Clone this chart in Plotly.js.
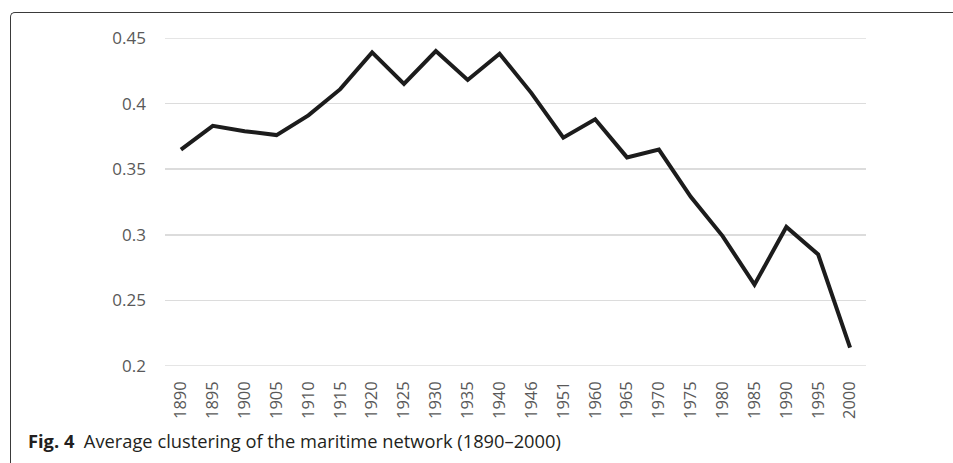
<!DOCTYPE html>
<html>
<head>
<meta charset="utf-8">
<script src="https://cdn.plot.ly/plotly-3.0.1.min.js"></script>
<style>
  html, body { margin: 0; padding: 0; background: #fff; }
  #wrap { position: relative; width: 953px; height: 463px; overflow: hidden; }
  #frame { position: absolute; left: 10px; top: 12px; width: 960px; height: 470px;
           border-left: 1.5px solid #3a3a3a; border-top: 1.5px solid #3a3a3a;
           border-top-left-radius: 5px; box-sizing: border-box; }
  #chart { position: absolute; left: 0; top: 0; width: 953px; height: 463px; }
</style>
</head>
<body>
<div id="wrap">
  <div id="frame"></div>
  <div id="chart"></div>
</div>
<script>
const years = ["1890","1895","1900","1905","1910","1915","1920","1925","1930","1935","1940","1946","1951","1960","1965","1970","1975","1980","1985","1990","1995","2000"];
const clustering = [0.365,0.383,0.379,0.376,0.391,0.411,0.439,0.415,0.440,0.418,0.438,0.408,0.374,0.388,0.359,0.365,0.329,0.299,0.262,0.306,0.285,0.214];
const yTicks = [0.2,0.25,0.3,0.35,0.4,0.45];
const yTickText = ["0.2","0.25","0.3","0.35","0.4","0.45"];
const caption = "<b>Fig. 4</b>  Average clustering of the maritime network (1890–2000)";

const font = "'Open Sans', 'Noto Sans', sans-serif";

const trace = {
  x: years, y: clustering, type: "scatter", mode: "lines",
  line: { color: "#1c1c1c", width: 4, shape: "linear" },
  hoverinfo: "skip"
};

const layout = {
  width: 953, height: 463,
  margin: { l: 165, r: 87, t: 38, b: 97, pad: 0 },
  paper_bgcolor: "rgba(0,0,0,0)", plot_bgcolor: "rgba(0,0,0,0)",
  showlegend: false,
  font: { family: font, color: "#595959" },
  xaxis: {
    type: "category",
    tickangle: -90,
    tickfont: { size: 16.5, color: "#595959", family: font },
    showgrid: false, zeroline: false, showline: false,
    ticks: "", ticklabelstandoff: 11,
    range: [-0.5, years.length - 0.5]
  },
  yaxis: {
    range: [0.2, 0.45],
    tickvals: yTicks, ticktext: yTickText,
    tickfont: { size: 17, color: "#595959", family: font },
    showgrid: true, gridcolor: "#dcdcdc", gridwidth: 1.5,
    zeroline: false, showline: false,
    ticks: "", ticklabelstandoff: 18
  },
  shapes: [
    { type: "line", xref: "paper", yref: "y", x0: 0, x1: 1, y0: 0.45, y1: 0.45,
      line: { color: "#dcdcdc", width: 1.5 }, layer: "below" },
    { type: "line", xref: "paper", yref: "y", x0: 0, x1: 1, y0: 0.2, y1: 0.2,
      line: { color: "#dcdcdc", width: 1.5 }, layer: "below" }
  ],
  annotations: [{
    text: caption, xref: "paper", yref: "paper",
    x: (26 - 165) / 701, y: (366 - 440) / 328,
    xanchor: "left", yanchor: "middle", showarrow: false,
    font: { size: 18.3, color: "#231f20", family: font }
  }]
};

Plotly.newPlot("chart", [trace], layout, { displayModeBar: false, staticPlot: true });
</script>
</body>
</html>
